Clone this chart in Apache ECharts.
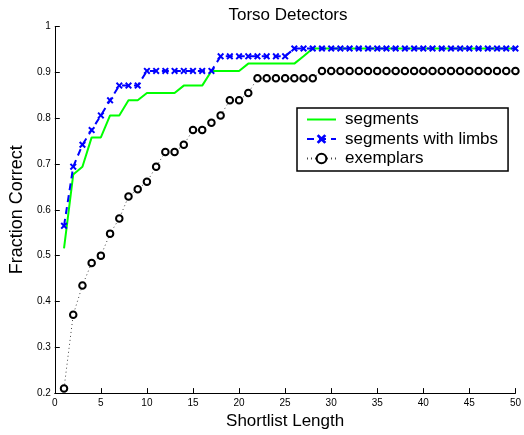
<!DOCTYPE html>
<html>
<head>
<meta charset="utf-8">
<script src="https://cdn.jsdelivr.net/npm/echarts@6/dist/echarts.min.js"></script>
<style>html,body{margin:0;padding:0;background:#fff;}#c{width:524px;height:435px;}</style>
</head>
<body>
<div id="c"></div>
<script>
// Shortlist lengths 1..50
var shortlist = [];
for (var i = 1; i <= 50; i++) shortlist.push(i);

var segments = [
  0.516, 0.677, 0.694, 0.758, 0.758, 0.806, 0.806, 0.839, 0.839, 0.855,
  0.855, 0.855, 0.855, 0.871, 0.871, 0.871, 0.903, 0.903, 0.903, 0.903,
  0.919, 0.919, 0.919, 0.919, 0.919, 0.919, 0.935, 0.952, 0.952, 0.952,
  0.952, 0.952, 0.952, 0.952, 0.952, 0.952, 0.952, 0.952, 0.952, 0.952,
  0.952, 0.952, 0.952, 0.952, 0.952, 0.952, 0.952, 0.952, 0.952, 0.952
];
var segmentsWithLimbs = [
  0.565, 0.694, 0.742, 0.774, 0.806, 0.839, 0.871, 0.871, 0.871, 0.903,
  0.903, 0.903, 0.903, 0.903, 0.903, 0.903, 0.903, 0.935, 0.935, 0.935,
  0.935, 0.935, 0.935, 0.935, 0.935, 0.952, 0.952, 0.952, 0.952, 0.952,
  0.952, 0.952, 0.952, 0.952, 0.952, 0.952, 0.952, 0.952, 0.952, 0.952,
  0.952, 0.952, 0.952, 0.952, 0.952, 0.952, 0.952, 0.952, 0.952, 0.952
];
var exemplars = [
  0.210, 0.371, 0.435, 0.484, 0.500, 0.548, 0.581, 0.629, 0.645, 0.661,
  0.694, 0.726, 0.726, 0.742, 0.774, 0.774, 0.790, 0.806, 0.839, 0.839,
  0.855, 0.887, 0.887, 0.887, 0.887, 0.887, 0.887, 0.887, 0.903, 0.903,
  0.903, 0.903, 0.903, 0.903, 0.903, 0.903, 0.903, 0.903, 0.903, 0.903,
  0.903, 0.903, 0.903, 0.903, 0.903, 0.903, 0.903, 0.903, 0.903, 0.903
];
var seriesNames = ['segments', 'segments with limbs', 'exemplars'];

function pairs(ys) { return shortlist.map(function (x, i) { return [x, ys[i]]; }); }

var FONT = 'Liberation Sans, Arial, Helvetica, sans-serif';
var chart = echarts.init(document.getElementById('c'), null, {renderer: 'canvas'});
chart.setOption({
  animation: false,
  backgroundColor: '#fff',
  title: {
    text: 'Torso Detectors', left: 283, top: 2, textAlign: 'center',
    textStyle: {fontFamily: FONT, fontSize: 17, fontWeight: 'normal', color: '#000'}
  },
  grid: {left: 46, right: 4, top: 26.5, bottom: 34.5, containLabel: false},
  legend: {
    orient: 'vertical', left: 297, top: 108,
    padding: [3, 10, 4, 9], itemGap: 2.5, itemWidth: 29, itemHeight: 12,
    backgroundColor: '#fff', borderColor: '#000', borderWidth: 1.5,
    textStyle: {fontFamily: FONT, fontSize: 17, color: '#000', padding: [0, 0, 0, 4]},
    data: [
      {name: seriesNames[0], icon: 'path://M0,0 L29,0 L29,2 L0,2 Z', itemStyle: {color: '#00ff00'}},
      {name: seriesNames[1]},
      {name: seriesNames[2]}
    ]
  },
  xAxis: {
    type: 'value', min: 0, max: 50, interval: 5,
    name: 'Shortlist Length', nameLocation: 'middle', nameGap: 15,
    nameTextStyle: {fontFamily: FONT, fontSize: 17, color: '#000', verticalAlign: 'top'},
    axisLine: {lineStyle: {color: '#000', width: 1}},
    axisTick: {inside: true, length: 5, lineStyle: {color: '#000'}},
    axisLabel: {fontFamily: FONT, fontSize: 10, color: '#000', margin: 5, showMaxLabel: true},
    splitLine: {show: false}
  },
  yAxis: {
    type: 'value', min: 0.2, max: 1, interval: 0.1,
    name: 'Fraction Correct', nameLocation: 'middle', nameGap: 23,
    nameTextStyle: {fontFamily: FONT, fontSize: 18, color: '#000'},
    axisLine: {show: true, lineStyle: {color: '#000', width: 1}},
    axisTick: {show: true, inside: true, length: 5, lineStyle: {color: '#000'}},
    axisLabel: {fontFamily: FONT, fontSize: 10, color: '#000', margin: 4,
      formatter: function (v) { return String(Math.round(v * 10) / 10); }},
    splitLine: {show: false}
  },
  series: [
    {
      name: seriesNames[0], type: 'line', data: pairs(segments),
      symbol: 'none',
      lineStyle: {color: '#00ff00', width: 2},
      itemStyle: {color: '#00ff00'}, z: 2
    },
    {
      name: seriesNames[1], type: 'line', data: pairs(segmentsWithLimbs),
      symbol: 'path://M2,0 L5,3 L8,0 L10,2 L7,5 L10,8 L8,10 L5,7 L2,10 L0,8 L3,5 L0,2 Z',
      symbolSize: 7, showSymbol: true,
      lineStyle: {color: '#0000ff', width: 2, type: [7, 5]},
      itemStyle: {color: '#0000ff'}, z: 3
    },
    {
      name: seriesNames[2], type: 'line', data: pairs(exemplars),
      symbol: 'circle', symbolSize: 6.5, showSymbol: true,
      lineStyle: {color: '#444', width: 1, type: [1, 3]},
      itemStyle: {color: '#fff', borderColor: '#000', borderWidth: 2}, z: 4
    }
  ]
});
</script>
</body>
</html>
